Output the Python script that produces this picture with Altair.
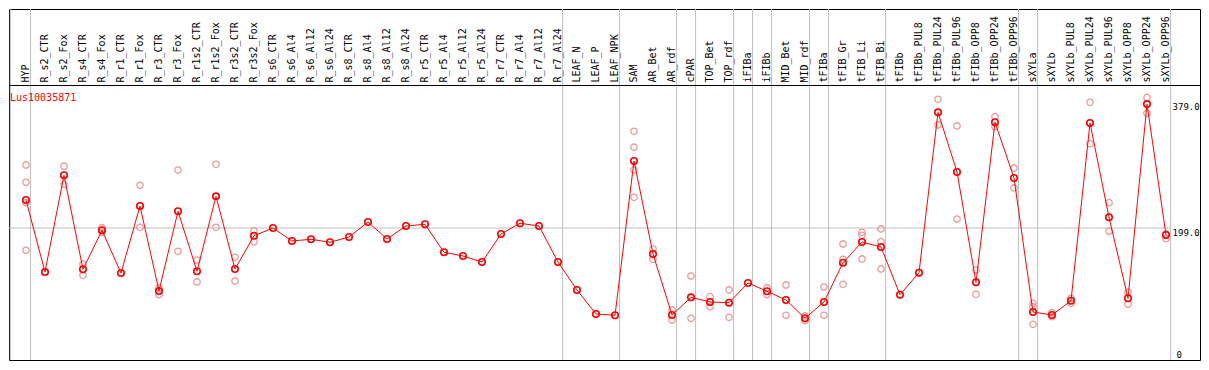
import altair as alt
import pandas as pd

# ---------------- data ----------------
categories = [
    "HYP", "R_s2_CTR", "R_s2_Fox", "R_s4_CTR", "R_s4_Fox", "R_r1_CTR", "R_r1_Fox",
    "R_r3_CTR", "R_r3_Fox", "R_r1s2_CTR", "R_r1s2_Fox", "R_r3s2_CTR", "R_r3s2_Fox",
    "R_s6_CTR", "R_s6_Al4", "R_s6_Al12", "R_s6_Al24", "R_s8_CTR", "R_s8_Al4",
    "R_s8_Al12", "R_s8_Al24", "R_r5_CTR", "R_r5_Al4", "R_r5_Al12", "R_r5_Al24",
    "R_r7_CTR", "R_r7_Al4", "R_r7_Al12", "R_r7_Al24", "LEAF_N", "LEAF_P", "LEAF_NPK",
    "SAM", "AR_Bet", "AR_rdf", "cPAR", "TOP_Bet", "TOP_rdf", "iFIBa", "iFIBb",
    "MID_Bet", "MID_rdf", "tFIBa", "tFIB_Gr", "tFIB_Li", "tFIB_Bi", "tFIBb",
    "tFIBb_PUL8", "tFIBb_PUL24", "tFIBb_PUL96", "tFIBb_OPP8", "tFIBb_OPP24",
    "tFIBb_OPP96", "sXYLa", "sXYLb", "sXYLb_PUL8", "sXYLb_PUL24", "sXYLb_PUL96",
    "sXYLb_OPP8", "sXYLb_OPP24", "sXYLb_OPP96",
]

means = [
    239.2, 135.8, 274.7, 139.7, 195.7, 134.3, 230.6, 108.5, 223.0, 136.8, 244.5,
    140.1, 187.9, 199.0, 180.3, 182.8, 178.5, 186.1, 207.6, 183.2, 201.9, 204.3,
    164.1, 158.8, 150.1, 190.4, 205.8, 201.9, 150.1, 109.9, 75.4, 73.6, 295.3,
    161.6, 74.0, 99.4, 92.7, 91.7, 120.0, 108.1, 95.6, 69.3, 92.7, 149.1, 178.9,
    171.7, 103.2, 134.8, 365.2, 279.5, 121.0, 350.9, 270.8, 78.3, 74.0, 94.5,
    349.9, 214.4, 98.0, 377.0, 188.9,
]

replicates = [
    [289.5, 264.7, 235.4, 167.0], [], [287.7, 261.8], [147.3, 131.0], [199.4, 192.8],
    [], [260.4, 200.0], [112.8, 103.2], [282.3, 165.5], [153.0, 121.4], [290.5, 200.0],
    [156.9, 122.8], [195.1, 179.3],
    [], [], [], [], [], [], [], [], [], [], [], [], [], [], [], [],
    [], [], [],
    [337.9, 315.0, 282.3, 243.1], [168.8, 154.0], [81.2, 66.8], [130.0, 69.3],
    [100.3, 85.9], [109.9, 70.7], [], [113.2, 103.2], [117.1, 73.6], [72.6, 65.8],
    [114.2, 73.6], [176.0, 154.0, 118.1], [192.8, 188.5, 154.5], [197.6, 179.3, 140.1],
    [], [], [383.9, 347.0], [345.6, 211.9], [138.7, 103.7], [358.9, 344.5],
    [285.2, 256.5], [90.8, 85.9, 60.6], [77.3, 71.6], [98.0, 90.8], [379.6, 320.1],
    [235.4, 194.3], [107.0, 89.4], [386.2, 363.8], [190.4, 183.6],
]

# group boundaries, in category-position units
separators = [-0.826, 0.24, 28.24, 31.24, 34.24, 35.24, 37.24, 38.24, 39.24,
              41.24, 42.24, 45.24, 52.24, 53.24, 60.24]

tick_values = [379, 199]
tick_labels = ["379.0", "199.0"]
zero_value = [0]
zero_label = ["0"]
gridline_value = [199]
title_text = "Lus10035871"

# ---------------- layout ----------------
W, H = 1191, 351
STEP, X0 = 19.0, 17.0               # px per category, px of first category
PX_PER_UNIT, YREF_V, YREF_PX = 0.696, 199.0, 219.0
x_lo, x_hi = -X0 / STEP, (W - X0) / STEP
y_hi = YREF_V + YREF_PX / PX_PER_UNIT
y_lo = YREF_V - (H - YREF_PX) / PX_PER_UNIT

xs = alt.Scale(domain=[x_lo, x_hi], nice=False, zero=False)
ys = alt.Scale(domain=[y_lo, y_hi], nice=False, zero=False)

FONT = "DejaVu Sans Mono"
RED = "#ff0000"
PINK = "#ef9a9a"
GRAY = "#c0c0c0"

df_mean = pd.DataFrame({"idx": list(range(len(categories))), "cat": categories, "mean": means})
rep_rows = [{"idx": i, "val": v} for i, reps in enumerate(replicates) for v in reps]
df_rep = pd.DataFrame(rep_rows)
df_sep = pd.DataFrame({"pos": separators})
df_grid = pd.DataFrame({"v": gridline_value, "xs": [x_lo], "xe": [separators[-1]]})
df_ticks = pd.DataFrame({"v": tick_values, "lab": tick_labels, "xp": [separators[-1]] * 2})
df_zero = pd.DataFrame({"v": zero_value, "lab": zero_label, "xp": [separators[-1]]})
df_title = pd.DataFrame({"t": [title_text]})

X = lambda f: alt.X(f, scale=xs, axis=None)
Y = lambda f: alt.Y(f, scale=ys, axis=None)

seps = alt.Chart(df_sep).mark_rule(color=GRAY, strokeWidth=1).encode(
    x=X("pos:Q"), y=alt.value(0), y2=alt.value(H))

grid = alt.Chart(df_grid).mark_rule(color=GRAY, strokeWidth=1).encode(
    x=X("xs:Q"), x2="xe:Q", y=Y("v:Q"))

header_line = alt.Chart(df_title).mark_rule(color="black", strokeWidth=1).encode(
    x=alt.value(0), x2=alt.value(W), y=alt.value(76.5))

reps = alt.Chart(df_rep).mark_point(shape="circle", filled=False, color=PINK,
                                    size=42, strokeWidth=1.3, opacity=1).encode(
    x=X("idx:Q"), y=Y("val:Q"))

line = alt.Chart(df_mean).mark_line(color=RED, strokeWidth=1).encode(
    x=X("idx:Q"), y=Y("mean:Q"))

pts = alt.Chart(df_mean).mark_point(shape="circle", filled=False, color=RED,
                                    size=42, strokeWidth=1.6, opacity=1).encode(
    x=X("idx:Q"), y=Y("mean:Q"))

labels = alt.Chart(df_mean).mark_text(angle=270, align="left", baseline="middle",
                                      font=FONT, fontSize=10, color="black").encode(
    x=X("idx:Q"), y=alt.value(73.5), text="cat:N")

ticks = alt.Chart(df_ticks).mark_text(align="left", baseline="alphabetic", font=FONT,
                                      fontSize=9, color="black", dx=2, dy=7.5).encode(
    x=X("xp:Q"), y=Y("v:Q"), text="lab:N")

zero = alt.Chart(df_zero).mark_text(align="left", baseline="alphabetic", font=FONT,
                                    fontSize=9, color="black", dx=6, dy=-8.5).encode(
    x=X("xp:Q"), y=Y("v:Q"), text="lab:N")

title = alt.Chart(df_title).mark_text(align="left", baseline="alphabetic", font=FONT,
                                      fontSize=10, color=RED).encode(
    x=alt.value(1), y=alt.value(91.5), text="t:N")

chart = alt.layer(seps, grid, header_line, reps, line, pts, labels, ticks, zero, title).properties(
    width=W, height=H,
    autosize=alt.AutoSizeParams(type="none"),
    padding={"left": 1, "top": 1, "right": 1, "bottom": 1},
    background="white",
).configure_view(stroke="black", strokeWidth=1)

chart.save("out.html", embed_options={"renderer": "svg", "actions": False})
